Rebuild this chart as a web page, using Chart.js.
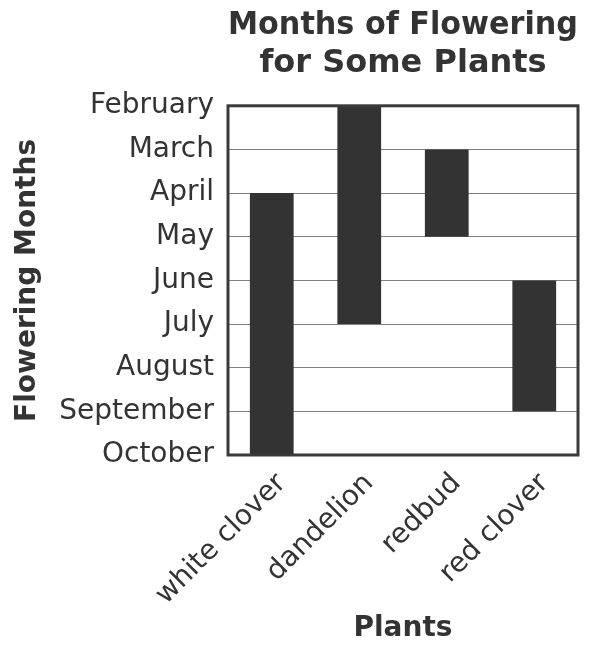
<!DOCTYPE html>
<html>
<head>
<meta charset="utf-8">
<script src="https://cdn.jsdelivr.net/npm/chart.js@4"></script>
<style>
  html, body { margin: 0; padding: 0; background: #ffffff; }
  canvas { display: block; }
</style>
</head>
<body>
<canvas id="c" width="600" height="646"></canvas>
<script>
const plants = ['white clover', 'dandelion', 'redbud', 'red clover'];
const months = ['February', 'March', 'April', 'May', 'June', 'July', 'August', 'September', 'October'];
const startMonths = ['April', 'February', 'March', 'June'];
const endMonths = ['October', 'July', 'May', 'September'];

const floating = plants.map((p, i) => [months.indexOf(startMonths[i]), months.indexOf(endMonths[i])]);

const TEXT = '#333333';
const FONT = 'DejaVu Sans';

const framePlugin = {
  id: 'frame',
  afterDatasetsDraw(chart) {
    const a = chart.chartArea, ctx = chart.ctx;
    ctx.save();
    ctx.strokeStyle = '#3a3a3a';
    ctx.lineWidth = 3;
    ctx.strokeRect(a.left, a.top, a.right - a.left, a.bottom - a.top);
    ctx.restore();
  }
};

new Chart(document.getElementById('c'), {
  type: 'bar',
  data: {
    labels: plants,
    datasets: [{
      data: floating,
      backgroundColor: '#333333',
      borderWidth: 0,
      barPercentage: 0.5,
      categoryPercentage: 1.0
    }]
  },
  options: {
    responsive: false,
    animation: false,
    devicePixelRatio: 1,
    layout: { padding: { top: 0, left: 0, right: 22, bottom: 0 } },
    plugins: {
      legend: { display: false },
      tooltip: { enabled: false },
      title: {
        display: true,
        fullSize: false,
        text: ['Months of Flowering', 'for Some Plants'],
        color: TEXT,
        font: { family: FONT, size: 32, weight: 'bold', lineHeight: 1.2 },
        padding: { top: 6, bottom: 23 }
      }
    },
    scales: {
      x: {
        type: 'category',
        offset: true,
        grid: { display: false, drawTicks: false },
        border: { display: false },
        ticks: {
          color: TEXT,
          font: { family: FONT, size: 28 },
          minRotation: 45,
          maxRotation: 45,
          autoSkip: false,
          padding: 12,
          labelOffset: 10
        },
        title: {
          display: true,
          text: 'Plants',
          color: TEXT,
          font: { family: FONT, size: 28, weight: 'bold', lineHeight: 1.2 },
          padding: { top: 0, bottom: 0 }
        },
        afterFit(scale) { scale.height = 191; }
      },
      y: {
        type: 'linear',
        reverse: true,
        min: 0,
        max: months.length - 1,
        grid: { color: '#808080', lineWidth: 1, drawTicks: false },
        border: { display: false },
        ticks: {
          stepSize: 1,
          color: TEXT,
          font: { family: FONT, size: 28 },
          padding: 14,
          callback: (v) => months[v]
        },
        title: {
          display: true,
          text: 'Flowering Months',
          color: TEXT,
          font: { family: FONT, size: 28, weight: 'bold', lineHeight: 1.2 },
          padding: { top: 11, bottom: 0 }
        },
        afterFit(scale) { scale.width = 228; }
      }
    }
  },
  plugins: [framePlugin]
});
</script>
</body>
</html>
